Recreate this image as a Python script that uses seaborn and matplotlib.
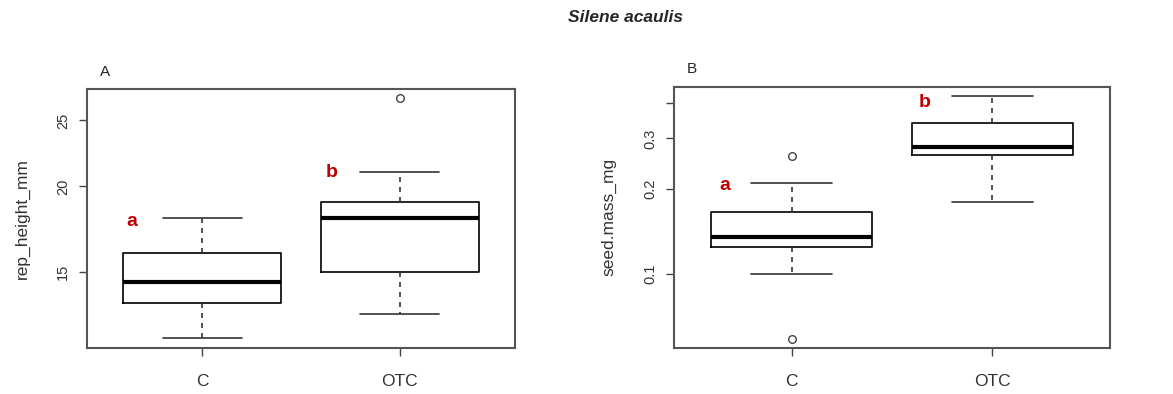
import matplotlib
matplotlib.use("Agg")
import matplotlib.pyplot as plt
import seaborn as sns
import pandas as pd
from matplotlib.ticker import NullLocator, FixedLocator, FixedFormatter

# ---- data (five-number summaries) ----
groups = ["C", "OTC"]

height_low = [12.0, 13.0]
height_q1 = [13.5, 15.0]
height_med = [14.5, 18.0]
height_q3 = [16.0, 19.0]
height_high = [18.0, 21.0]
height_out = [[], [27.0]]

mass_low = [0.100, 0.179]
mass_q1 = [0.125, 0.262]
mass_med = [0.135, 0.279]
mass_q3 = [0.165, 0.341]
mass_high = [0.210, 0.424]
mass_out = [[0.059, 0.261], []]

letters = ["a", "b"]
height_ticks = [15, 20, 25]
mass_ticks = [0.1, 0.2, 0.3, 0.4]
mass_ticklabels = ["0.1", "0.2", "0.3", ""]


def build_table(lo, q1, med, q3, hi, outs):
    rows = []
    for g, a, b, c, d, e, o in zip(groups, lo, q1, med, q3, hi, outs):
        vals = [v for v in o if v < a] + [a] + [b] * 20 + [c] * 20 + [d] * 20 + [e] + [v for v in o if v > e]
        rows += [(g, v) for v in vals]
    return pd.DataFrame(rows, columns=["group", "value"])


df_h = build_table(height_low, height_q1, height_med, height_q3, height_high, height_out)
df_m = build_table(mass_low, mass_q1, mass_med, mass_q3, mass_high, mass_out)

sns.set_theme(style="white")
plt.rcParams["font.family"] = ["Liberation Sans", "DejaVu Sans"]

fig = plt.figure(figsize=(11.73, 3.94), dpi=100)
axA = fig.add_axes([87 / 1173, 46 / 394, 428 / 1173, 259 / 394])
axB = fig.add_axes([674 / 1173, 46.3 / 394, 436 / 1173, 261 / 394])

frame_col = "#555555"
box_kw = dict(
    x="group", y="value", order=groups, width=0.8, whis=1.5,
    fill=False, color="black", linecolor="#111111", linewidth=1.2,
    medianprops=dict(linewidth=3, color="black"),
    whiskerprops=dict(linestyle=(0, (3, 3)), color="#333333"),
    capprops=dict(color="#333333"),
    flierprops=dict(marker="o", markerfacecolor="none", markeredgecolor="#444444",
                    markersize=5.5, markeredgewidth=1),
)


def style(ax, ylabel, ylim, ticks, ticklabels, panel):
    ax.set_yscale("log")
    ax.set_ylim(*ylim)
    ax.set_xlim(-0.585, 1.585)
    ax.yaxis.set_major_locator(FixedLocator(ticks))
    ax.yaxis.set_major_formatter(FixedFormatter(ticklabels))
    ax.yaxis.set_minor_locator(NullLocator())
    ax.set_xlabel("")
    ax.set_ylabel(ylabel, fontsize=12.5, color="#333333", labelpad=19)
    for s in ax.spines.values():
        s.set_color(frame_col)
        s.set_linewidth(1.5)
    ax.tick_params(axis="both", which="major", direction="out", length=6, width=1,
                   color="#444444", left=True, bottom=True)
    ax.tick_params(axis="x", labelsize=12.5, labelcolor="#333333", pad=13)
    ax.tick_params(axis="y", labelsize=10.5, labelcolor="#333333", pad=6)
    for lab in ax.get_yticklabels():
        lab.set_rotation(90)
        lab.set_va("center")
    ax.text(0.03, 1.04, panel, transform=ax.transAxes, fontsize=11, ha="left", va="bottom")


sns.boxplot(data=df_h, ax=axA, **box_kw)
sns.boxplot(data=df_m, ax=axB, **box_kw)

style(axA, "rep_height_mm", (11.59, 27.8), height_ticks, [str(t) for t in height_ticks], "A")
style(axB, "seed.mass_mg", (0.0552, 0.456), mass_ticks, mass_ticklabels, "B")

red = "#c00000"
axA.text(-0.359, 17.76, letters[0], color=red, fontsize=14, fontweight="bold", ha="center", va="center")
axA.text(0.655, 21.0, letters[1], color=red, fontsize=14, fontweight="bold", ha="center", va="center")
axB.text(-0.331, 0.205, letters[0], color=red, fontsize=14, fontweight="bold", ha="center", va="center")
axB.text(0.664, 0.40, letters[1], color=red, fontsize=14, fontweight="bold", ha="center", va="center")

fig.text(0.533, 0.955, "Silene acaulis", fontsize=12.5, fontweight="bold", fontstyle="italic",
         ha="center", va="center")

fig.savefig("out.png", dpi=100, facecolor="white")
